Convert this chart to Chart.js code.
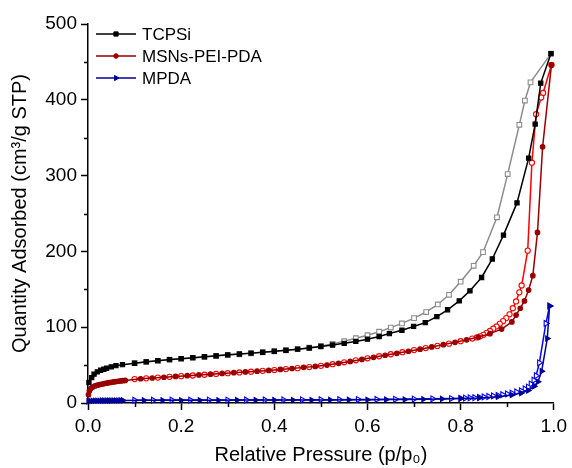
<!DOCTYPE html>
<html>
<head>
<meta charset="utf-8">
<script src="https://cdn.jsdelivr.net/npm/chart.js@4.4.1/dist/chart.umd.min.js"></script>
<style>
html, body { margin: 0; padding: 0; background: #fff; }
</style>
</head>
<body>
<canvas id="isotherm" width="572" height="468"></canvas>
<script>
// N2 isotherms: filled = adsorption, open = desorption
const seriesNames = ['TCPSi', 'MSNs-PEI-PDA', 'MPDA'];

const tcpsiAdsP = [0.002, 0.008, 0.013, 0.020, 0.027, 0.034, 0.040, 0.050, 0.060, 0.074,
  0.100, 0.125, 0.150, 0.175, 0.200, 0.225, 0.250, 0.275, 0.300, 0.325,
  0.350, 0.375, 0.400, 0.425, 0.450, 0.475, 0.500, 0.525, 0.550, 0.575,
  0.600, 0.625, 0.647, 0.674, 0.699, 0.724, 0.749, 0.772, 0.797, 0.820,
  0.845, 0.868, 0.892, 0.921, 0.946, 0.960, 0.972, 0.994];
const tcpsiAdsQ = [27, 33.5, 38, 41, 43.2, 44.5, 45.8, 47.6, 49.3, 50.6,
  52.5, 54.3, 55.8, 57.3, 58.5, 59.8, 61, 62.2, 63.5, 64.6,
  65.8, 67, 68.3, 69.6, 71, 72.6, 74.5, 76.5, 78.7, 81.2,
  84.2, 87.7, 91.6, 96, 101, 106, 114, 123, 134.7, 148,
  165.6, 190, 221.5, 264, 323, 368, 422, 461];

const tcpsiDesP = [0.994, 0.950, 0.938, 0.926, 0.901, 0.878, 0.848, 0.828, 0.800, 0.775,
  0.751, 0.726, 0.700, 0.674, 0.650, 0.625, 0.600, 0.575, 0.550, 0.525,
  0.500, 0.475, 0.450, 0.425, 0.400, 0.375, 0.350, 0.325, 0.300, 0.275,
  0.250, 0.225, 0.200, 0.175, 0.150, 0.125, 0.100];
const tcpsiDesQ = [461, 423, 399, 367, 302, 245, 199, 181, 160, 142.7,
  130, 120, 112, 105, 99.5, 94, 89.5, 85.5, 81.5, 78,
  75.3, 73, 71, 69.5, 68, 66.8, 65.5, 64.3, 63.2, 62,
  60.7, 59.5, 58.3, 57.2, 55.7, 54.2, 52.5];

const msnAdsP = [0.001, 0.003, 0.006, 0.010, 0.015, 0.020, 0.025, 0.030, 0.035, 0.040,
  0.045, 0.050, 0.055, 0.060, 0.065, 0.070, 0.075, 0.080,
  0.113, 0.138, 0.163, 0.188, 0.213, 0.238, 0.263, 0.288, 0.313, 0.338,
  0.363, 0.388, 0.413, 0.438, 0.463, 0.488, 0.513, 0.538, 0.563, 0.588,
  0.613, 0.638, 0.663, 0.688, 0.713, 0.738, 0.763, 0.788, 0.813, 0.838,
  0.863, 0.888, 0.910, 0.919, 0.928, 0.937, 0.946, 0.955, 0.965, 0.976, 0.995];
const msnAdsQ = [11, 16, 19, 21, 22.5, 23.5, 24.3, 25, 25.6, 26.2,
  26.8, 27.3, 27.8, 28.3, 28.7, 29.1, 29.5, 29.8,
  32, 33, 34, 35, 36, 37, 38, 39, 40, 41,
  42, 43, 44.3, 45.5, 47, 48.3, 50, 52.3, 54.8, 57.5,
  60.3, 63, 65.5, 68.3, 71, 74, 77, 80, 83.3, 87,
  91.5, 97.5, 107, 116, 125, 134.7, 149, 168, 225, 338, 446];

const msnDesP = [0.995, 0.977, 0.973, 0.962, 0.953, 0.944, 0.931, 0.926, 0.919, 0.912,
  0.905, 0.898, 0.891, 0.884, 0.877, 0.870, 0.863, 0.856, 0.849, 0.842,
  0.835, 0.825, 0.800, 0.775, 0.750, 0.725, 0.700, 0.675, 0.650, 0.625,
  0.600, 0.575, 0.550, 0.525, 0.500, 0.475, 0.450, 0.425, 0.400, 0.375,
  0.350, 0.325, 0.300, 0.275, 0.250, 0.225, 0.200, 0.175, 0.150, 0.125, 0.100];
const msnDesQ = [446, 409, 403, 381, 317, 201, 155, 146, 134, 125,
  117, 112, 108, 104.5, 101, 98, 95, 92.5, 90, 88,
  86.5, 85, 81.5, 78.3, 75.3, 72.5, 69.8, 67, 64.3, 61.7,
  59, 56.3, 53.7, 51.2, 49, 47.4, 46, 44.7, 43.5, 42.4,
  41.3, 40.3, 39.3, 38.3, 37.3, 36.3, 35.4, 34.5, 33.5, 32.5, 31.5];

const mpdaAdsP = [0.001, 0.005, 0.010, 0.015, 0.020, 0.025, 0.030, 0.035, 0.040, 0.045,
  0.050, 0.055, 0.060, 0.065, 0.070, 0.075,
  0.12, 0.16, 0.20, 0.24, 0.28, 0.32, 0.36, 0.40, 0.44, 0.48,
  0.52, 0.56, 0.60, 0.64, 0.68, 0.72, 0.76, 0.80, 0.84, 0.88,
  0.910, 0.930, 0.945, 0.958, 0.966, 0.974, 0.986, 0.991];
const mpdaAdsQ = [2.2, 2.6, 2.8, 2.9, 3.0, 3.0, 3.1, 3.1, 3.2, 3.2,
  3.2, 3.3, 3.3, 3.3, 3.4, 3.4,
  3.5, 3.6, 3.6, 3.7, 3.7, 3.8, 3.8, 3.9, 3.9, 4.0,
  4.1, 4.2, 4.3, 4.5, 4.7, 5.0, 5.4, 5.9, 6.7, 8.2,
  10.5, 13, 16.5, 22, 28, 42, 85, 128];

const mpdaDesP = [0.991, 0.983, 0.969, 0.962, 0.957, 0.951, 0.945, 0.938, 0.930, 0.920,
  0.910, 0.900, 0.890, 0.880, 0.870, 0.860, 0.850, 0.840, 0.830, 0.820,
  0.810, 0.800, 0.78, 0.74, 0.70, 0.66, 0.62, 0.58, 0.54, 0.50,
  0.46, 0.42, 0.38, 0.34, 0.30, 0.26, 0.22, 0.18, 0.14, 0.10];
const mpdaDesQ = [128, 105, 53, 36, 30, 25, 21, 18.5, 16, 14.5,
  13, 12, 11, 10, 9.3, 8.6, 8, 7.5, 7, 6.8,
  6.5, 6.2, 5.9, 5.5, 5.2, 4.9, 4.7, 4.5, 4.4, 4.3,
  4.2, 4.1, 4.0, 4.0, 3.9, 3.9, 3.8, 3.8, 3.7, 3.6];

const xTicks = [0, 0.2, 0.4, 0.6, 0.8, 1.0];
const yTicks = [0, 100, 200, 300, 400, 500];

const FONT = '"Liberation Sans", Arial, sans-serif';

function pts(p, q) {
    return p.map((v, i) => ({ x: v, y: q[i] }));
}

function series(label, p, q, color, style, radius, filled, rotation) {
    return {
        label: label,
        data: pts(p, q),
        borderColor: color,
        backgroundColor: color,
        borderWidth: 1.5,
        pointStyle: style,
        pointRadius: radius,
        pointRotation: rotation || 0,
        pointBorderColor: color,
        pointBackgroundColor: filled ? color : '#ffffff',
        pointBorderWidth: 1.1,
        tension: 0,
        fill: false,
        clip: false
    };
}

const colors = {
    tcpsiAds: '#000000', tcpsiDes: '#8c8c8c',
    msnAds: '#990000', msnDes: '#ff0000',
    mpdaAds: '#000099', mpdaDes: '#0000ff'
};

// legend drawn inside the plot, line + marker like the original
const insideLegend = {
    id: 'insideLegend',
    afterDraw(chart) {
        const ctx = chart.ctx;
        const area = chart.chartArea;
        const items = [
            { color: colors.tcpsiAds, style: 'rect', radius: 3, rotation: 0 },
            { color: colors.msnAds, style: 'circle', radius: 2.3, rotation: 0 },
            { color: colors.mpdaAds, style: 'triangle', radius: 3, rotation: 90 }
        ];
        const x0 = area.left + 8;
        items.forEach((item, i) => {
            const yy = area.top + 10 + i * 22;
            ctx.save();
            ctx.strokeStyle = item.color;
            ctx.lineWidth = 1.5;
            ctx.beginPath();
            ctx.moveTo(x0, yy);
            ctx.lineTo(x0 + 40, yy);
            ctx.stroke();
            ctx.fillStyle = item.color;
            ctx.lineWidth = 1;
            Chart.helpers.drawPoint(ctx, {
                pointStyle: item.style, radius: item.radius,
                rotation: item.rotation, borderWidth: 1
            }, x0 + 20, yy);
            ctx.fillStyle = '#000';
            ctx.font = '17px ' + FONT;
            ctx.textBaseline = 'middle';
            ctx.fillText(seriesNames[i], x0 + 46, yy + 1);
            ctx.restore();
        });
    }
};

// short minor ticks halfway between labelled ticks
const minorTicks = {
    id: 'minorTicks',
    afterDraw(chart) {
        const ctx = chart.ctx;
        const { x, y } = chart.scales;
        const area = chart.chartArea;
        ctx.save();
        ctx.strokeStyle = '#000';
        ctx.lineWidth = 1.5;
        ctx.beginPath();
        for (let i = 0; i < xTicks.length - 1; i++) {
            const px = Math.round(x.getPixelForValue((xTicks[i] + xTicks[i + 1]) / 2)) + 0.5;
            ctx.moveTo(px, area.bottom);
            ctx.lineTo(px, area.bottom + 4);
        }
        for (let i = 0; i < yTicks.length - 1; i++) {
            const py = Math.round(y.getPixelForValue((yTicks[i] + yTicks[i + 1]) / 2)) + 0.5;
            ctx.moveTo(area.left, py);
            ctx.lineTo(area.left - 4, py);
        }
        ctx.stroke();
        ctx.restore();
    }
};

const ctx = document.getElementById('isotherm').getContext('2d');

new Chart(ctx, {
    type: 'line',
    data: {
        datasets: [
            series(seriesNames[0] + ' ads', tcpsiAdsP, tcpsiAdsQ, colors.tcpsiAds, 'rect', 3, true),
            series(seriesNames[0] + ' des', tcpsiDesP, tcpsiDesQ, colors.tcpsiDes, 'rect', 3.3, false),
            series(seriesNames[1] + ' ads', msnAdsP, msnAdsQ, colors.msnAds, 'circle', 2.3, true),
            series(seriesNames[1] + ' des', msnDesP, msnDesQ, colors.msnDes, 'circle', 2.6, false),
            series(seriesNames[2] + ' ads', mpdaAdsP, mpdaAdsQ, colors.mpdaAds, 'triangle', 3, true, 90),
            series(seriesNames[2] + ' des', mpdaDesP, mpdaDesQ, colors.mpdaDes, 'triangle', 3.4, false, 90)
        ]
    },
    options: {
        responsive: false,
        animation: false,
        layout: {
            padding: { top: 24, right: 14, left: 0, bottom: 0 }
        },
        plugins: {
            legend: { display: false },
            tooltip: { enabled: false }
        },
        scales: {
            x: {
                type: 'linear',
                min: 0,
                max: 1,
                afterFit: (scale) => { scale.height = 65; },
                afterBuildTicks: (scale) => { scale.ticks = xTicks.map(v => ({ value: v })); },
                ticks: {
                    color: '#000',
                    font: { family: FONT, size: 19 },
                    padding: 5,
                    maxRotation: 0,
                    callback: (v) => v.toFixed(1)
                },
                grid: {
                    drawOnChartArea: false,
                    drawTicks: true,
                    tickLength: 7,
                    tickColor: '#000',
                    tickWidth: 1.5
                },
                border: { display: true, color: '#000', width: 1.5 },
                title: {
                    display: true,
                    text: 'Relative Pressure (p/p₀)',
                    color: '#000',
                    font: { family: FONT, size: 20 },
                    padding: { top: 0, bottom: 1 }
                }
            },
            y: {
                min: 0,
                max: 500,
                afterFit: (scale) => { scale.width = 88; },
                afterBuildTicks: (scale) => { scale.ticks = yTicks.map(v => ({ value: v })); },
                ticks: {
                    color: '#000',
                    font: { family: FONT, size: 19 },
                    padding: 4
                },
                grid: {
                    drawOnChartArea: false,
                    drawTicks: true,
                    tickLength: 7,
                    tickColor: '#000',
                    tickWidth: 1.5
                },
                border: { display: true, color: '#000', width: 1.5 },
                title: {
                    display: true,
                    text: 'Quantity Adsorbed (cm³/g STP)',
                    color: '#000',
                    font: { family: FONT, size: 20 },
                    padding: { top: 8, bottom: 0 }
                }
            }
        }
    },
    plugins: [insideLegend, minorTicks]
});
</script>
</body>
</html>
